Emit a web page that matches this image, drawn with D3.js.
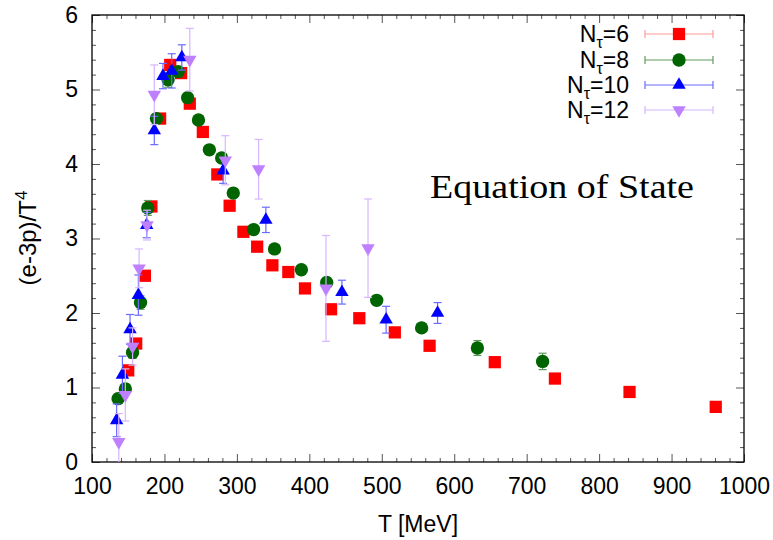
<!DOCTYPE html>
<meta charset="utf-8">
<head>
  <title>Equation of State</title>
  <script src="https://d3js.org/d3.v7.min.js"></script>
  <style>
    body { margin: 0; background: #fff; }
    text { font-family: "Liberation Sans", Arial, sans-serif; }
  </style>
</head>
<body>
<div id="display"></div>
<script>

// data: T [MeV], (e-3p)/T^4, error
var t6 = [150, 161, 173, 182, 194, 208, 223, 235, 253, 273, 290, 309, 328, 349, 371, 394, 430, 469, 518, 566, 656, 739, 842, 961];
var v6 = [1.23, 1.59, 2.50, 3.43, 4.61, 5.33, 5.22, 4.81, 4.43, 3.86, 3.44, 3.09, 2.89, 2.64, 2.55, 2.33, 2.05, 1.93, 1.74, 1.56, 1.34, 1.12, 0.94, 0.74];
var e6 = [0.05, 0.05, 0.06, 0.06, 0.06, 0.05, 0.05, 0.04, 0.04, 0.04, 0.04, 0.03, 0.03, 0.03, 0.03, 0.03, 0.03, 0.03, 0.03, 0.03, 0.03, 0.03, 0.03, 0.03];

var t8 = [136, 146, 156, 167, 177, 189, 205, 219, 232, 247, 262, 279, 295, 323, 352, 389, 424, 493, 555, 632, 722];
var v8 = [0.85, 0.98, 1.47, 2.14, 3.41, 4.61, 5.13, 5.24, 4.89, 4.59, 4.19, 4.08, 3.61, 3.12, 2.86, 2.58, 2.41, 2.17, 1.80, 1.53, 1.35];
var e8 = [0.06, 0.07, 0.08, 0.09, 0.10, 0.06, 0.10, 0.05, 0.05, 0.04, 0.04, 0.05, 0.04, 0.04, 0.04, 0.04, 0.05, 0.06, 0.06, 0.10, 0.11];

var t10 = [134, 142, 152.5, 164, 175.5, 186, 198, 210, 224, 281, 340, 445, 506, 577];
var v10 = [0.56, 1.17, 1.78, 2.24, 3.18, 4.45, 5.18, 5.25, 5.43, 3.91, 3.25, 2.28, 1.91, 2.00];
var e10 = [0.22, 0.25, 0.20, 0.27, 0.17, 0.19, 0.17, 0.23, 0.17, 0.17, 0.17, 0.16, 0.18, 0.14];

var t12 = [137, 146, 156, 165, 176, 186, 235, 284, 330, 423, 481];
var v12 = [0.27, 0.90, 1.55, 2.60, 3.18, 4.93, 5.40, 4.05, 3.93, 2.33, 2.87];
var e12 = [0.38, 0.35, 0.25, 0.26, 0.20, 0.40, 0.42, 0.33, 0.40, 0.71, 0.66];

var seriesNames = ["6", "8", "10", "12"];
var xTicks = [100, 200, 300, 400, 500, 600, 700, 800, 900, 1000];
var yTicks = [0, 1, 2, 3, 4, 5, 6];

var markColors = ["#ff0000", "#006400", "#0000ff", "#bf80ff"];
var barColors  = ["#ff9a9a", "#5f9c5f", "#6a6aff", "#d6b6ff"];
var shapes     = ["square", "circle", "up", "down"];

var width = 773, height = 540,
    pLeft = 92, pRight = 744, pTop = 15, pBottom = 462;

var svg = d3.select("#display")
  .append("svg")
    .attr("width", width)
    .attr("height", height);

var x = d3.scaleLinear().domain([100, 1000]).range([pLeft, pRight]);
var y = d3.scaleLinear().domain([0, 6]).range([pBottom, pTop]);

var data = [
  d3.zip(t6, v6, e6),
  d3.zip(t8, v8, e8),
  d3.zip(t10, v10, e10),
  d3.zip(t12, v12, e12)
];

// minor ticks
var xMinor = d3.range(100, 1001, 20).filter(function(d) { return d % 100 != 0; });
var yMinor = d3.range(0, 6.01, 0.2).filter(function(d) { return Math.abs(d - Math.round(d)) > 0.01; });

function styleAxis(g) {
  g.select(".domain").remove();
  g.selectAll("line").attr("stroke", "#555");
  g.selectAll("text").style("font-size", "23px").attr("fill", "#000");
}

svg.append("g").attr("transform", "translate(0," + pBottom + ")")
  .call(d3.axisBottom(x).tickValues(xTicks).tickSize(-8).tickPadding(16).tickFormat(d3.format("d")))
  .call(styleAxis);
svg.append("g").attr("transform", "translate(0," + pBottom + ")")
  .call(d3.axisBottom(x).tickValues(xMinor).tickSize(-4).tickFormat(""))
  .call(styleAxis);
svg.append("g").attr("transform", "translate(0," + pTop + ")")
  .call(d3.axisTop(x).tickValues(xTicks).tickSize(-8).tickFormat(""))
  .call(styleAxis);
svg.append("g").attr("transform", "translate(0," + pTop + ")")
  .call(d3.axisTop(x).tickValues(xMinor).tickSize(-4).tickFormat(""))
  .call(styleAxis);

svg.append("g").attr("transform", "translate(" + pLeft + ",0)")
  .call(d3.axisLeft(y).tickValues(yTicks).tickSize(-8).tickPadding(14).tickFormat(d3.format("d")))
  .call(styleAxis);
svg.append("g").attr("transform", "translate(" + pLeft + ",0)")
  .call(d3.axisLeft(y).tickValues(yMinor).tickSize(-4).tickFormat(""))
  .call(styleAxis);
svg.append("g").attr("transform", "translate(" + pRight + ",0)")
  .call(d3.axisRight(y).tickValues(yTicks).tickSize(-8).tickFormat(""))
  .call(styleAxis);
svg.append("g").attr("transform", "translate(" + pRight + ",0)")
  .call(d3.axisRight(y).tickValues(yMinor).tickSize(-4).tickFormat(""))
  .call(styleAxis);

// frame
svg.append("rect")
  .attr("x", pLeft).attr("y", pTop)
  .attr("width", pRight - pLeft).attr("height", pBottom - pTop)
  .attr("fill", "none").attr("stroke", "#000").attr("stroke-width", 1.3);

svg.append("clipPath").attr("id", "plotclip")
  .append("rect")
  .attr("x", pLeft).attr("y", pTop)
  .attr("width", pRight - pLeft).attr("height", pBottom - pTop);

function symbolPath(shape) {
  if (shape == "square") return d3.symbol().type(d3.symbolSquare).size(150)();
  if (shape == "circle") return d3.symbol().type(d3.symbolCircle).size(140)();
  return d3.symbol().type(d3.symbolTriangle).size(78)();
}
function symbolTransform(shape, px, py) {
  if (shape == "down") return "translate(" + px + "," + py + ") rotate(180)";
  return "translate(" + px + "," + py + ")";
}

var plot = svg.append("g").attr("clip-path", "url(#plotclip)");

data.forEach(function(rows, i) {
  var g = plot.append("g");
  var bars = g.selectAll("g.err")
    .data(rows)
    .enter()
    .append("g")
      .attr("stroke", barColors[i])
      .attr("stroke-width", 1.2);
  bars.append("line")
    .attr("x1", function(d) { return x(d[0]); })
    .attr("x2", function(d) { return x(d[0]); })
    .attr("y1", function(d) { return y(d[1] - d[2]); })
    .attr("y2", function(d) { return y(d[1] + d[2]); });
  bars.append("line")
    .attr("x1", function(d) { return x(d[0]) - 4; })
    .attr("x2", function(d) { return x(d[0]) + 4; })
    .attr("y1", function(d) { return y(d[1] - d[2]); })
    .attr("y2", function(d) { return y(d[1] - d[2]); });
  bars.append("line")
    .attr("x1", function(d) { return x(d[0]) - 4; })
    .attr("x2", function(d) { return x(d[0]) + 4; })
    .attr("y1", function(d) { return y(d[1] + d[2]); })
    .attr("y2", function(d) { return y(d[1] + d[2]); });

  g.selectAll("path")
    .data(rows)
    .enter()
    .append("path")
      .attr("d", symbolPath(shapes[i]))
      .attr("transform", function(d) { return symbolTransform(shapes[i], x(d[0]), y(d[1])); })
      .attr("fill", markColors[i]);
});

// legend
var legRows = [34, 60, 85, 110];
var leg = svg.append("g");
seriesNames.forEach(function(n, i) {
  var ly = legRows[i];
  var t = leg.append("text")
    .attr("x", 629).attr("y", ly + 8)
    .attr("text-anchor", "end")
    .style("font-size", "23px");
  t.append("tspan").text("N");
  t.append("tspan").attr("dy", 6).style("font-size", "16px").text("\u03c4");
  t.append("tspan").attr("dy", -6).text("=" + n);

  leg.append("line").attr("x1", 645).attr("x2", 713).attr("y1", ly).attr("y2", ly)
    .attr("stroke", barColors[i]).attr("stroke-width", 1.2);
  leg.append("line").attr("x1", 645).attr("x2", 645).attr("y1", ly - 4).attr("y2", ly + 4)
    .attr("stroke", barColors[i]).attr("stroke-width", 1.2);
  leg.append("line").attr("x1", 713).attr("x2", 713).attr("y1", ly - 4).attr("y2", ly + 4)
    .attr("stroke", barColors[i]).attr("stroke-width", 1.2);
  leg.append("path")
    .attr("d", symbolPath(shapes[i]))
    .attr("transform", symbolTransform(shapes[i], 679, ly))
    .attr("fill", markColors[i]);
});

// annotation
svg.append("text")
  .attr("x", 430).attr("y", 198)
  .attr("textLength", 264)
  .attr("lengthAdjust", "spacingAndGlyphs")
  .style("font-family", "'Liberation Serif', 'Times New Roman', serif")
  .style("font-size", "34px")
  .text("Equation of State");

// axis titles
svg.append("text")
  .attr("x", 418).attr("y", 532)
  .attr("text-anchor", "middle")
  .style("font-size", "23px")
  .text("T [MeV]");

var yl = svg.append("text")
  .attr("transform", "translate(36,238) rotate(-90)")
  .attr("text-anchor", "middle")
  .style("font-size", "24px");
yl.append("tspan").text("(e-3p)/T");
yl.append("tspan").attr("dy", -9).style("font-size", "17px").text("4");

</script>
</body>
